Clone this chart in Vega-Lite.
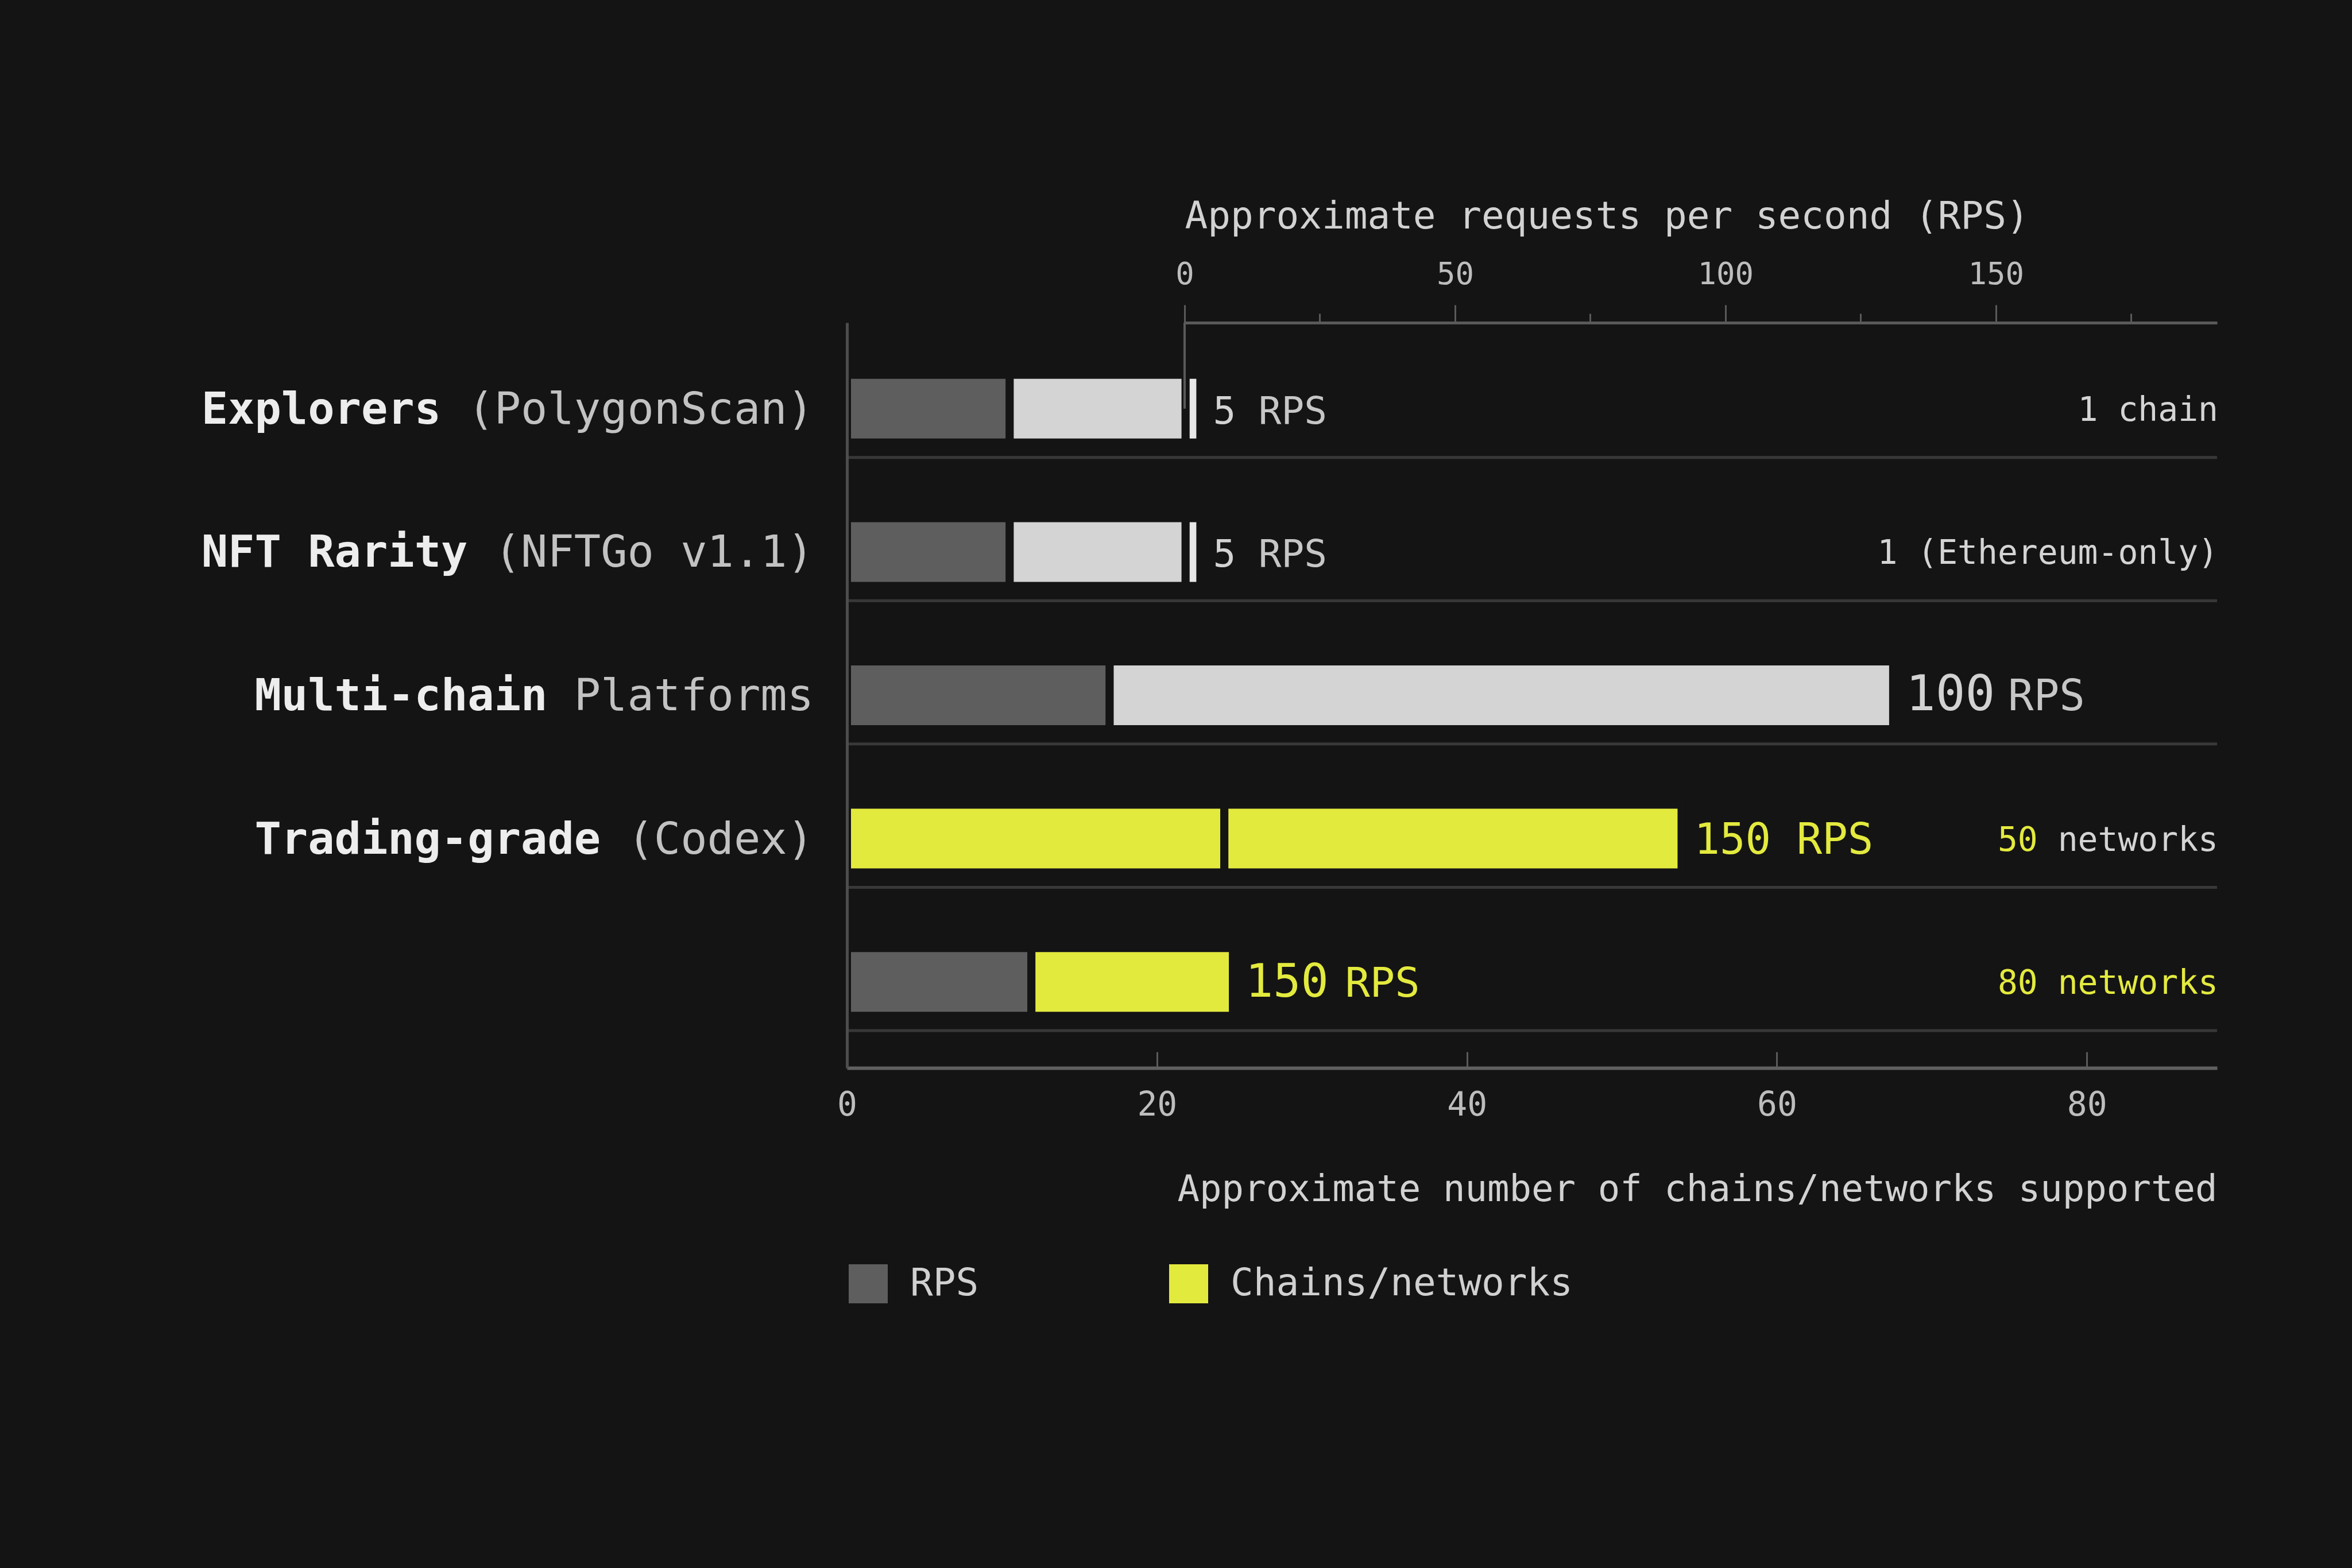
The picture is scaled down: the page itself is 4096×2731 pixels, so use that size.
{
  "$schema": "https://vega.github.io/schema/vega-lite/v6.json",
  "width": 2386,
  "height": 1298,
  "autosize": "none",
  "padding": {"left": 1475, "top": 562, "right": 235, "bottom": 871},
  "background": "#141414",
  "config": {
    "view": {"stroke": null},
    "font": "DejaVu Sans Mono",
    "text": {"font": "DejaVu Sans Mono"},
    "axis": {"labelFont": "DejaVu Sans Mono", "titleFont": "DejaVu Sans Mono", "grid": false},
    "legend": {"labelFont": "DejaVu Sans Mono"}
  },
  "datasets": {
    "rows": [
      {"category": "Explorers (PolygonScan)", "name": "Explorers", "detail": "(PolygonScan)", "rps": 5, "note_num": "1", "note_rest": "chain"},
      {"category": "NFT Rarity (NFTGo v1.1)", "name": "NFT Rarity", "detail": "(NFTGo v1.1)", "rps": 5, "note_num": "1", "note_rest": "(Ethereum-only)"},
      {"category": "Multi-chain Platforms", "name": "Multi-chain", "detail": "Platforms", "rps": 100, "note_num": "", "note_rest": ""},
      {"category": "Trading-grade (Codex)", "name": "Trading-grade", "detail": "(Codex)", "rps": 150, "note_num": "50", "note_rest": "networks"},
      {"category": "Unlabelled provider", "name": "", "detail": "", "rps": 150, "note_num": "80", "note_rest": "networks"}
    ],
    "segments": [
      {"category": "Explorers (PolygonScan)", "series": "RPS", "start": 0, "end": 10.5},
      {"category": "Explorers (PolygonScan)", "series": "Chains/networks (muted)", "start": 10.5, "end": 21.85},
      {"category": "Explorers (PolygonScan)", "series": "Limit marker", "start": 21.85, "end": 22.8},
      {"category": "NFT Rarity (NFTGo v1.1)", "series": "RPS", "start": 0, "end": 10.5},
      {"category": "NFT Rarity (NFTGo v1.1)", "series": "Chains/networks (muted)", "start": 10.5, "end": 21.85},
      {"category": "NFT Rarity (NFTGo v1.1)", "series": "Limit marker", "start": 21.85, "end": 22.8},
      {"category": "Multi-chain Platforms", "series": "RPS", "start": 0, "end": 16.95},
      {"category": "Multi-chain Platforms", "series": "Chains/networks (muted)", "start": 16.95, "end": 67.5},
      {"category": "Trading-grade (Codex)", "series": "RPS (highlighted)", "start": 0, "end": 24.35},
      {"category": "Trading-grade (Codex)", "series": "Chains/networks", "start": 24.35, "end": 53.85},
      {"category": "Unlabelled provider", "series": "RPS", "start": 0, "end": 11.9},
      {"category": "Unlabelled provider", "series": "Chains/networks", "start": 11.9, "end": 24.9}
    ]
  },
  "layer": [
    {
      "layer": [
        {
          "data": {"name": "rows"},
          "mark": {"type": "rule", "color": "#383838", "strokeWidth": 5},
          "encoding": {
            "y": {"field": "category", "type": "nominal", "bandPosition": 0.84, "title": null,
              "scale": {"domain": ["Explorers (PolygonScan)", "NFT Rarity (NFTGo v1.1)", "Multi-chain Platforms", "Trading-grade (Codex)", "Unlabelled provider"], "paddingOuter": 0.1, "paddingInner": 0},
              "axis": {"labels": false, "ticks": false, "title": null, "domainColor": "#4d4d4d", "domainWidth": 5, "zindex": 1, "grid": false}}
          }
        },
        {
          "data": {"name": "segments"},
          "mark": {"type": "bar", "size": 118, "stroke": "#141414", "strokeWidth": 14},
          "encoding": {
            "x": {"field": "start", "type": "quantitative",
              "scale": {"domain": [0, 88.4], "nice": false, "zero": false},
              "axis": {"orient": "bottom", "values": [0, 20, 40, 60, 80], "tickSize": -28, "tickColor": "#5a5a5a", "tickWidth": 3,
                "labelPadding": 64, "labelFontSize": 58, "labelColor": "#bdbdbd", "labelFlush": false,
                "domainColor": "#606060", "domainWidth": 6, "grid": false,
                "title": "Approximate number of chains/networks supported", "titleAnchor": "end", "titleFontSize": 64,
                "titleFontWeight": "normal", "titleColor": "#d2d2d2", "titlePadding": 86}},
            "x2": {"field": "end"},
            "y": {"field": "category", "type": "nominal", "title": null},
            "color": {"field": "series", "type": "nominal",
              "scale": {"domain": ["RPS", "Chains/networks", "RPS (highlighted)", "Chains/networks (muted)", "Limit marker"],
                "range": ["#5e5e5e", "#e3ea3e", "#e3ea3e", "#d4d4d4", "#e8e8e8"]},
              "legend": {"orient": "none", "legendX": 3, "legendY": 1640, "direction": "horizontal", "title": null,
                "values": ["RPS", "Chains/networks"], "symbolType": "square", "symbolSize": 4624, "symbolStrokeWidth": 0,
                "labelFontSize": 66, "labelColor": "#d0d0d0", "labelOffset": 39, "labelLimit": 0, "columnPadding": 331}}
          }
        },
        {
          "data": {"name": "segments"},
          "transform": [
            {"aggregate": [{"op": "max", "field": "end", "as": "bar_end"}], "groupby": ["category"]},
            {"lookup": "category", "from": {"data": {"name": "rows"}, "key": "category", "fields": ["rps"]}},
            {"calculate": "toString(datum.rps)", "as": "rps_num"}
          ],
          "mark": {"type": "text", "align": "left", "baseline": "alphabetic", "dx": 22, "dy": 26},
          "encoding": {
            "x": {"field": "bar_end", "type": "quantitative"},
            "y": {"field": "category", "type": "nominal", "title": null},
            "text": {"field": "rps_num"},
            "size": {"condition": [
              {"test": "datum.category === 'Multi-chain Platforms'", "value": 86},
              {"test": "datum.category === 'Unlabelled provider'", "value": 80},
              {"test": "datum.category === 'Trading-grade (Codex)'", "value": 74}
            ], "value": 66},
            "color": {"condition": {"test": "datum.rps >= 150", "value": "#e3ea3e"}, "value": "#d2d2d2"}
          }
        },
        {
          "data": {"name": "segments"},
          "transform": [
            {"aggregate": [{"op": "max", "field": "end", "as": "bar_end"}], "groupby": ["category"]},
            {"lookup": "category", "from": {"data": {"name": "rows"}, "key": "category", "fields": ["rps"]}},
            {"calculate": "'\u200b' + pad('RPS', length(toString(datum.rps)) + 4, '\u00a0', 'left')", "as": "rps_unit"}
          ],
          "mark": {"type": "text", "align": "left", "baseline": "alphabetic", "dx": 22, "dy": 26},
          "encoding": {
            "x": {"field": "bar_end", "type": "quantitative"},
            "y": {"field": "category", "type": "nominal", "title": null},
            "text": {"field": "rps_unit"},
            "size": {"condition": [
              {"test": "datum.category === 'Multi-chain Platforms'", "value": 74},
              {"test": "datum.category === 'Unlabelled provider'", "value": 72},
              {"test": "datum.category === 'Trading-grade (Codex)'", "value": 74}
            ], "value": 66},
            "color": {"condition": {"test": "datum.rps >= 150", "value": "#e3ea3e"}, "value": "#c6c6c6"}
          }
        },
        {
          "data": {"name": "rows"},
          "transform": [
            {"filter": "datum.note_num !== ''"},
            {"calculate": "pad(datum.note_num, length(datum.note_num) + 1 + length(datum.note_rest), '\u00a0') + '\u200b'", "as": "num_text"}
          ],
          "mark": {"type": "text", "align": "right", "baseline": "alphabetic", "dx": 2, "dy": 21, "fontSize": 58},
          "encoding": {
            "x": {"datum": 88.4, "type": "quantitative"},
            "y": {"field": "category", "type": "nominal", "title": null},
            "text": {"field": "num_text"},
            "color": {"condition": {"test": "datum.rps >= 150", "value": "#e3ea3e"}, "value": "#d4d4d4"}
          }
        },
        {
          "data": {"name": "rows"},
          "transform": [
            {"filter": "datum.note_num !== ''"},
            {"calculate": "'\u200b' + pad(datum.note_rest, length(datum.note_num) + 1 + length(datum.note_rest), '\u00a0', 'left')", "as": "rest_text"}
          ],
          "mark": {"type": "text", "align": "right", "baseline": "alphabetic", "dx": 2, "dy": 21, "fontSize": 58},
          "encoding": {
            "x": {"datum": 88.4, "type": "quantitative"},
            "y": {"field": "category", "type": "nominal", "title": null},
            "text": {"field": "rest_text"},
            "color": {"condition": {"test": "datum.category === 'Unlabelled provider'", "value": "#e3ea3e"}, "value": "#d4d4d4"}
          }
        },
        {
          "data": {"name": "rows"},
          "transform": [
            {"filter": "datum.name !== ''"},
            {"calculate": "pad(datum.name, length(datum.name) + 1 + length(datum.detail), '\u00a0') + '\u200b'", "as": "name_text"}
          ],
          "mark": {"type": "text", "align": "right", "baseline": "alphabetic", "dx": -58, "dy": 26, "fontSize": 77, "fontWeight": "bold"},
          "encoding": {
            "x": {"datum": 0, "type": "quantitative"},
            "y": {"field": "category", "type": "nominal", "title": null},
            "text": {"field": "name_text"},
            "color": {"value": "#ededed"}
          }
        },
        {
          "data": {"name": "rows"},
          "transform": [
            {"filter": "datum.detail !== ''"},
            {"calculate": "'\u200b' + pad(datum.detail, length(datum.name) + 1 + length(datum.detail), '\u00a0', 'left')", "as": "detail_text"}
          ],
          "mark": {"type": "text", "align": "right", "baseline": "alphabetic", "dx": -58, "dy": 26, "fontSize": 77},
          "encoding": {
            "x": {"datum": 0, "type": "quantitative"},
            "y": {"field": "category", "type": "nominal", "title": null},
            "text": {"field": "detail_text"},
            "color": {"value": "#c2c2c2"}
          }
        }
      ]
    },
    {
      "data": {"name": "rows"},
      "transform": [{"filter": "datum.category === 'Explorers (PolygonScan)'"}],
      "mark": {"type": "rule", "color": "#5a5a5a", "strokeWidth": 4},
      "encoding": {
        "x": {"datum": 0, "type": "quantitative",
          "scale": {"domain": [0, 190.9], "range": [588, 2386], "nice": false, "zero": false},
          "axis": {"orient": "top", "values": [0, 25, 50, 75, 100, 125, 150, 175],
            "labelExpr": "datum.value % 50 === 0 ? datum.label : ''",
            "tickSize": {"condition": {"test": "datum.value % 50 === 0", "value": 31}, "value": 16},
            "tickColor": "#5a5a5a", "tickWidth": 3, "labelPadding": 26, "labelFontSize": 54, "labelColor": "#bdbdbd", "labelFlush": false,
            "domainColor": "#5a5a5a", "domainWidth": 5, "grid": false,
            "title": "Approximate requests per second (RPS)", "titleAnchor": "start", "titleFontSize": 66,
            "titleFontWeight": "normal", "titleColor": "#d2d2d2", "titlePadding": 40}},
        "y": {"datum": "Explorers (PolygonScan)", "type": "nominal", "bandPosition": -0.1, "title": null},
        "y2": {"datum": "Explorers (PolygonScan)", "bandPosition": 0.5}
      }
    }
  ],
  "resolve": {"scale": {"x": "independent"}, "axis": {"x": "independent"}}
}
